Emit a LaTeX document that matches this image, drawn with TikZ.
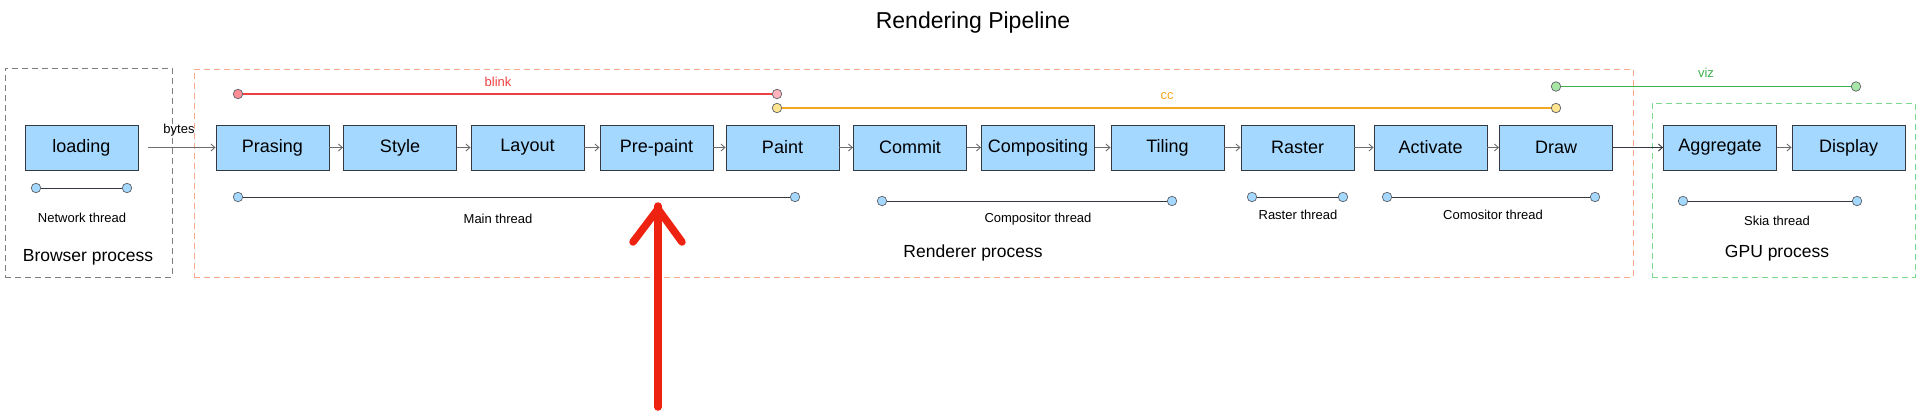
\documentclass[tikz,border=0pt]{standalone}
\usepackage{fontspec}
\setmainfont{Liberation Sans}
\usetikzlibrary{arrows.meta}
\definecolor{boxfill}{HTML}{A5D8FF}
\definecolor{boxline}{HTML}{343A40}
\definecolor{flowgray}{HTML}{6C6C6C}
\definecolor{brgray}{HTML}{7A7F85}
\definecolor{rdpeach}{HTML}{F8A98C}
\definecolor{gpugreen}{HTML}{7BD88C}
\definecolor{blinkred}{HTML}{EE4040}
\definecolor{blinkdot}{HTML}{FFB3BC}
\definecolor{ccorange}{HTML}{F5A623}
\definecolor{ccdot}{HTML}{FFE58F}
\definecolor{vizgreen}{HTML}{40B050}
\definecolor{vizdot}{HTML}{A8E6A8}
\definecolor{handred}{HTML}{EE2211}
\tikzset{
  box/.style={draw=boxline, line width=0.9pt, fill=boxfill, minimum width=113pt, minimum height=45pt, inner sep=0pt, font=\fontsize{18}{20}\selectfont},
  dot/.style={circle, draw=boxline!80, line width=0.7pt, fill=boxfill, minimum size=9.5pt, inner sep=0pt},
  thread/.style={draw=boxline, line width=1pt},
  tlabel/.style={font=\fontsize{13}{15}\selectfont, inner sep=0pt},
  plabel/.style={font=\fontsize{17.5}{19}\selectfont, inner sep=0pt},
  flow/.style={draw=flowgray, line width=0.9pt, -{Straight Barb[length=4pt,width=7pt]}},
  proc/.style={draw, dashed, dash pattern=on 6pt off 4pt, line width=1pt, inner sep=0pt},
}
\begin{document}
\begin{tikzpicture}[x=1pt,y=-1pt]
\useasboundingbox (0,0) rectangle (1920,418);
% title
\node[font=\fontsize{23}{26}\selectfont] (title) at (973,23) {Rendering Pipeline};
% process containers
\node[proc, draw=brgray, minimum width=167pt, minimum height=209pt] (browser) at (88.5,172.5) {};
\node[proc, draw=rdpeach, minimum width=1439pt, minimum height=208pt] (renderer) at (913.5,173) {};
\node[proc, draw=gpugreen, minimum width=263pt, minimum height=174pt] (gpu) at (1783.5,190) {};
\node[plabel] (browserlbl) at (88,257) {Browser process};
\node[plabel] (rendererlbl) at (973,253) {Renderer process};
\node[plabel] (gpulbl) at (1777,253) {GPU process};
% stage boxes
\node[box] (loading) at (81.5,147.5) {loading};
\node[box] (prasing) at (272.5,147.5) {Prasing};
\node[box] (style) at (400,147.5) {Style};
\node[box] (layout) at (527.5,147.5) {Layout};
\node[box] (prepaint) at (656.5,147.5) {Pre-paint};
\node[box] (paint) at (782.5,147.5) {Paint};
\node[box] (commit) at (910,147.5) {Commit};
\node[box] (compositing) at (1038,147.5) {Compositing};
\node[box] (tiling) at (1167.5,147.5) {Tiling};
\node[box] (raster) at (1297.5,147.5) {Raster};
\node[box] (activate) at (1430.5,147.5) {Activate};
\node[box] (draw) at (1556,147.5) {Draw};
\node[box] (aggregate) at (1720,147.5) {Aggregate};
\node[box] (display) at (1848.5,147.5) {Display};
% flow arrows
\draw[flow, shorten <=10pt] (loading) -- (prasing);
\node[tlabel] (bytes) at (179,130) {bytes};
\draw[flow] (prasing) -- (style);
\draw[flow] (style) -- (layout);
\draw[flow] (layout) -- (prepaint);
\draw[flow] (prepaint) -- (paint);
\draw[flow] (paint) -- (commit);
\draw[flow] (commit) -- (compositing);
\draw[flow] (compositing) -- (tiling);
\draw[flow] (tiling) -- (raster);
\draw[flow] (raster) -- (activate);
\draw[flow] (activate) -- (draw);
\draw[flow, draw=boxline] (draw) -- (aggregate);
\draw[flow] (aggregate) -- (display);
% threads
\node[dot] (nt1) at (36,188) {};
\node[dot] (nt2) at (127,188) {};
\draw[thread] (nt1) -- (nt2);
\node[tlabel] (ntl) at (82,218) {Network thread};
\node[dot] (mt1) at (238,197) {};
\node[dot] (mt2) at (795,197) {};
\draw[thread] (mt1) -- (mt2);
\node[tlabel] (mtl) at (498,219) {Main thread};
\node[dot] (ct1) at (882,201) {};
\node[dot] (ct2) at (1172,201) {};
\draw[thread] (ct1) -- (ct2);
\node[tlabel] (ctl) at (1038,219) {Compositor thread};
\node[dot] (rt1) at (1252,197) {};
\node[dot] (rt2) at (1343,197) {};
\draw[thread] (rt1) -- (rt2);
\node[tlabel] (rtl) at (1298,215) {Raster thread};
\node[dot] (cmt1) at (1387,197) {};
\node[dot] (cmt2) at (1595,197) {};
\draw[thread] (cmt1) -- (cmt2);
\node[tlabel] (cmtl) at (1493,215) {Comositor thread};
\node[dot] (sk1) at (1683,201) {};
\node[dot] (sk2) at (1857,201) {};
\draw[thread] (sk1) -- (sk2);
\node[tlabel] (skl) at (1777,221) {Skia thread};
% component spans
\node[dot, fill=blinkdot!80!red] (bl1) at (238,94) {};
\node[dot, fill=blinkdot] (bl2) at (777,94) {};
\draw[blinkred, line width=1.2pt] (bl1) -- (bl2);
\node[tlabel, text=blinkred] (bll) at (498,82) {blink};
\node[dot, fill=ccdot] (cc1) at (777,108) {};
\node[dot, fill=ccdot] (cc2) at (1556,108) {};
\draw[ccorange, line width=1.2pt] (cc1) -- (cc2);
\node[tlabel, text=ccorange] (ccl) at (1167,96) {cc};
\node[dot, fill=vizdot] (vz1) at (1556,86.5) {};
\node[dot, fill=vizdot] (vz2) at (1856,86.5) {};
\draw[vizgreen, line width=1.2pt] (vz1) -- (vz2);
\node[tlabel, text=vizgreen] (vzl) at (1706,73) {viz};
% hand-drawn red arrow
\coordinate (hb) at (658,407);
\coordinate (ht) at (658,206);
\coordinate (hl) at (633,242);
\coordinate (hr) at (682,242);
\draw[handred, line width=7.5pt, line cap=round, line join=round] (hb) -- (ht);
\draw[handred, line width=7.5pt, line cap=round, line join=round] (hl) -- ([yshift=-3pt]ht) -- (hr);
\end{tikzpicture}
\end{document}
